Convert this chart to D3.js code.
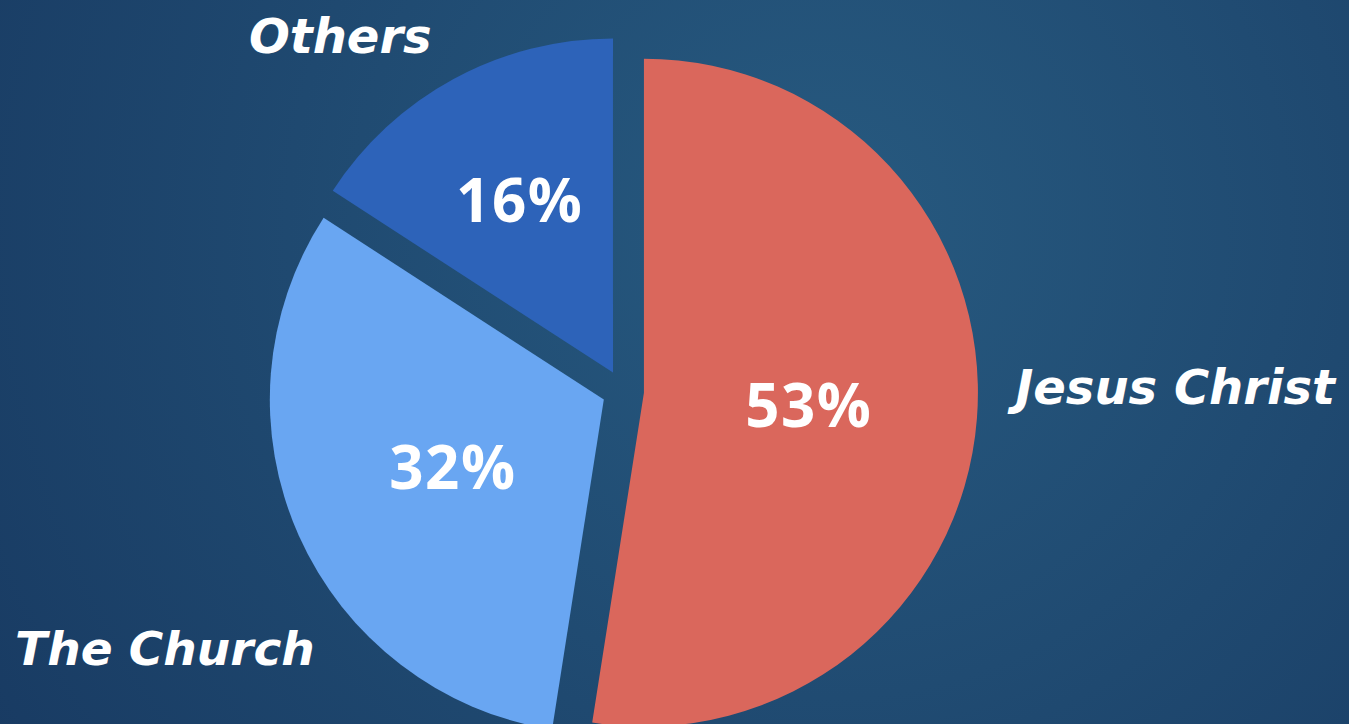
<!DOCTYPE html>
<html>
<head>
  <title>Jesus Christ / The Church / Others</title>
  <script src="https://d3js.org/d3.v7.min.js"></script>
  <style>
    html, body { margin: 0; padding: 0; overflow: hidden; }
    .name {
      font-family: "DejaVu Sans", sans-serif;
      font-style: italic;
      font-weight: 700;
      fill: #fff;
    }
    .pct {
      font-family: "Open Sans", sans-serif;
      font-weight: 700;
      letter-spacing: 1.5px;
      fill: #fff;
    }
  </style>
</head>
<body>
<svg width="1349" height="724"></svg>
<script>
  // chart data, clockwise from 12 o'clock
  const categories = ["Jesus Christ", "The Church", "Others"];
  const values = [53, 32, 16];
  const valueLabels = ["53%", "32%", "16%"];
  const colors = ["#da675c", "#69a6f2", "#2d63b9"];

  const width = 1349, height = 724;
  const cx = 623, cy = 391, radius = 334, explode = 21;

  const svg = d3.select("svg");

  // background: soft radial navy gradient
  const defs = svg.append("defs");
  const grad = defs.append("radialGradient")
    .attr("id", "bg")
    .attr("gradientUnits", "userSpaceOnUse")
    .attr("cx", 820).attr("cy", 230).attr("r", 1000);
  grad.append("stop").attr("offset", 0).attr("stop-color", "#275a80");
  grad.append("stop").attr("offset", 1).attr("stop-color", "#183a62");
  svg.append("rect")
    .attr("width", width).attr("height", height)
    .attr("fill", "url(#bg)");

  const data = categories.map((c, i) => ({ name: c, value: values[i], label: valueLabels[i], color: colors[i] }));

  const pie = d3.pie().sort(null).value(d => d.value);
  const arcs = pie(data);

  const arc = d3.arc().innerRadius(0).outerRadius(radius);

  // push each slice out along its bisector
  const shift = d => {
    const a = (d.startAngle + d.endAngle) / 2;
    return [Math.sin(a) * explode, -Math.cos(a) * explode];
  };

  const g = svg.append("g").attr("transform", `translate(${cx},${cy})`);

  const slices = g.selectAll("g.slice")
    .data(arcs)
    .join("g")
      .attr("class", "slice")
      .attr("transform", d => `translate(${shift(d)})`);

  slices.append("path")
    .attr("d", arc)
    .attr("fill", d => d.data.color);

  // small slices get their label pushed further out
  slices.append("text")
    .attr("class", "pct")
    .attr("font-size", 60)
    .attr("text-anchor", "middle")
    .attr("dy", "0.36em")
    .attr("transform", d => {
      const span = d.endAngle - d.startAngle;
      const lr = span < 1.5 ? radius * 0.585 : radius * 0.495;
      const a = (d.startAngle + d.endAngle) / 2;
      return `translate(${Math.sin(a) * lr},${-Math.cos(a) * lr})`;
    })
    .text(d => d.data.label);

  // category names placed around the pie
  const namePos = {
    "Jesus Christ": { x: cx + radius * 1.175, y: cy + 13, size: 48 },
    "The Church": { x: cx - radius * 1.82, y: cy + 274, size: 47 },
    "Others": { x: cx - radius * 1.12, y: cy - 338, size: 48 }
  };

  svg.selectAll("text.name")
    .data(data)
    .join("text")
      .attr("class", "name")
      .attr("font-size", d => namePos[d.name].size)
      .attr("x", d => namePos[d.name].x)
      .attr("y", d => namePos[d.name].y)
      .text(d => d.name);
</script>
</body>
</html>
